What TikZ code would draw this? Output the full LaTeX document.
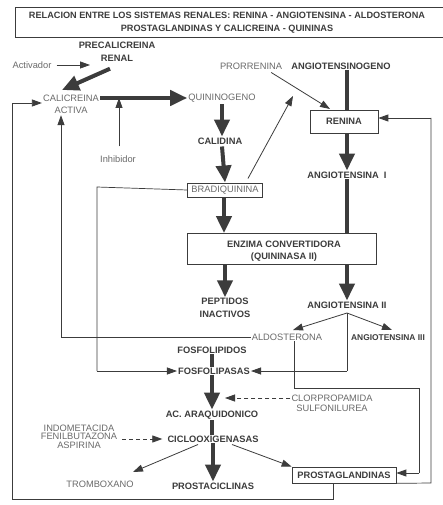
\documentclass[tikz,border=0pt]{standalone}
\usepackage{fontspec}
\setmainfont{Liberation Sans}
\usetikzlibrary{arrows.meta}
\definecolor{ink}{HTML}{3C3C3C}
\definecolor{lite}{HTML}{6A6A6A}
\begin{document}
\begin{tikzpicture}[x=1pt,y=-1pt,
  bt/.style={font=\fontsize{9.3}{12.5}\selectfont\bfseries, text=ink, inner sep=1pt, align=center},
  lt/.style={font=\fontsize{9.3}{12.5}\selectfont, text=lite, inner sep=1pt, align=center},
  boxed/.style={draw=ink, line width=0.7pt},
  big/.style={draw=ink, line width=4pt, -{Triangle[length=17pt,width=15pt]}},
  bigline/.style={draw=ink, line width=4pt},
  thin/.style={draw=ink, line width=0.8pt, -{Triangle[length=10pt,width=7pt]}},
  thinline/.style={draw=ink, line width=0.7pt},
  dashy/.style={draw=ink, line width=0.8pt, dash pattern=on 4pt off 3pt, -{Triangle[length=10pt,width=7pt]}}]
\useasboundingbox (0,0) rectangle (442,505);
\fill[white] (0,0) rectangle (442,505);
% title
\draw[boxed] (446,7) -- (15,7) -- (15,37) -- (446,37);
\node[bt, font=\fontsize{9.15}{13}\selectfont\bfseries] (title) at (227,23) {RELACION ENTRE LOS SISTEMAS RENALES: RENINA - ANGIOTENSINA - ALDOSTERONA\\PROSTAGLANDINAS Y CALICREINA - QUININAS};
% nodes
\node[bt] (prec) at (117,52) {PRECALICREINA\\RENAL};
\node[lt] (activ) at (32,65) {Activador};
\node[lt] (calic) at (71,104.5) {CALICREINA\\ACTIVA};
\node[lt] (quin) at (222,98) {QUININOGENO};
\node[lt] (inh) at (118,159) {Inhibidor};
\node[bt] (calid) at (220,141) {CALIDINA};
\node[lt, boxed, inner xsep=4pt, inner ysep=3pt] (brad) at (225,190) {BRADIQUININA};
\node[boxed, minimum width=189pt, minimum height=31pt, inner sep=0pt] (enz) at (281.5,249) {};
\node[bt] (enzt) at (284,251) {ENZIMA CONVERTIDORA\\(QUININASA II)};
\node[bt] (pept) at (225,308) {PEPTIDOS\\INACTIVOS};
\node[bt] (ang2) at (347,305) {ANGIOTENSINA II};
\node[lt] (aldo) at (287,337) {ALDOSTERONA};
\node[bt, font=\fontsize{8.4}{10}\selectfont\bfseries] (ang3) at (388,338) {ANGIOTENSINA III};
\node[lt] (prorr) at (251,66) {PRORRENINA};
\node[bt] (angen) at (341,66) {ANGIOTENSINOGENO};
\node[boxed, bt, minimum width=68pt, minimum height=23pt, inner sep=0pt] (ren) at (344,121.5) {RENINA};
\node[bt] (ang1) at (347,175) {ANGIOTENSINA\ \ I};
\node[bt] (fli) at (212,350) {FOSFOLIPIDOS};
\node[bt] (fla) at (214,371) {FOSFOLIPASAS};
\node[bt] (ac) at (212,415) {AC. ARAQUIDONICO};
\node[lt, font=\fontsize{9.3}{10}\selectfont] (clor) at (332,403) {CLORPROPAMIDA\\SULFONILUREA};
\node[bt] (ciclo) at (213,439) {CICLOOXIGENASAS};
\node[lt, font=\fontsize{9.3}{8.7}\selectfont] (indo) at (79,436.5) {INDOMETACIDA\\FENILBUTAZONA\\ASPIRINA};
\node[lt] (trom) at (100,484) {TROMBOXANO};
\node[bt] (pcic) at (213,486) {PROSTACICLINAS};
\node[boxed, bt, minimum width=104pt, minimum height=16pt, inner sep=0pt] (pgl) at (344,475) {PROSTAGLANDINAS};
% connectors top-left
\draw[thin] (activ.east) ++(4,0) -- (90,65) coordinate (actend);
\draw[big] (prec.south) ++(-7,6) -- (62,90) coordinate (calhit);
\draw[big] (calic.east |- 0,98) -- (quin.west);
\coordinate (inhtop) at (119,98);
\draw[thin] (inh.north) ++(1,-8) -- (inhtop);
\draw[big] (quin.south) ++(0,1) -- (calid.north -| quin.south);
\draw[big] (calid.south) ++(2,1) -- (brad.north);
\draw[thin] (brad.north east) ++(-15,-4) -- (293,96) coordinate (bradend);
\draw[big] (brad.south) ++(-1,1) -- (enz.north -| 224,0);
\draw[big] (enz.south -| pept.north) -- (pept.north);
\draw[big] (enz.south -| ang2.north) -- (ang2.north);
% renin side
\draw[bigline] (angen.south -| 347,0) -- (ren.north -| 347,0);
\draw[thin] (prorr.south east) ++(-12,2) -- (330,109) coordinate (prorend);
\draw[big] (ren.south -| ang1.north) -- (ang1.north);
\draw[bigline] (ang1.south) -- (enz.north -| ang1.south);
% angiotensina II branches
\coordinate (a2b) at (347,313);
\draw[thin] (a2b) -- (293,330);
\draw[thin] (a2b) -- (392,330);
\draw[thinline] (a2b) -- (347,371) coordinate (a2c);
\draw[thin] (a2c) -- (fla.east);
% bradiquinina to fosfolipasas
\draw[thinline] (brad.west) -- (97,187) coordinate (bl1) -- (97,371) coordinate (bl2);
\draw[thin] (bl2) -- (fla.west);
% aldosterona to calicreina
\draw[thinline] (aldo.west) -- (61,337) coordinate (al1);
\draw[thin] (al1) -- (calic.south -| al1);
% aldosterona to prostaglandinas
\draw[thinline] (aldo.south) ++(7,0) -- (294,388) coordinate (ap1) -- (419,388) coordinate (ap2) -- (419,473) coordinate (ap3);
\draw[thin] (ap3) -- (pgl.east |- ap3);
% fosfolipids chain
\draw[bigline] (fli.south) -- (fla.north -| fli.south);
\draw[big] (fla.south -| ac.north) -- (ac.north);
\draw[dashy] (clor.west |- 0,398) -- (225,398);
\draw[bigline] (ac.south) -- (ciclo.north -| ac.south);
\draw[dashy] (122,439) -- ([xshift=-4pt]ciclo.west);
\draw[thin] (ciclo.south) ++(-15,1) -- (133,472);
\draw[big] (ciclo.south -| pcic.north) -- (pcic.north);
\draw[thin] (ciclo.south) ++(19,1) -- (pgl.north west);
% feedback loops
\draw[thinline] (pgl.south east) -- (431,483) coordinate (r1) -- (431,118) coordinate (r2);
\draw[thin] (r2) -- (ren.east |- r2);
\draw[thinline] (pgl.south -| 333,0) -- (333,499) coordinate (b1) -- (12,499) coordinate (b2) -- (12,103) coordinate (b3);
\draw[thin] (b3) -- (calic.west |- b3);
\end{tikzpicture}
\end{document}
